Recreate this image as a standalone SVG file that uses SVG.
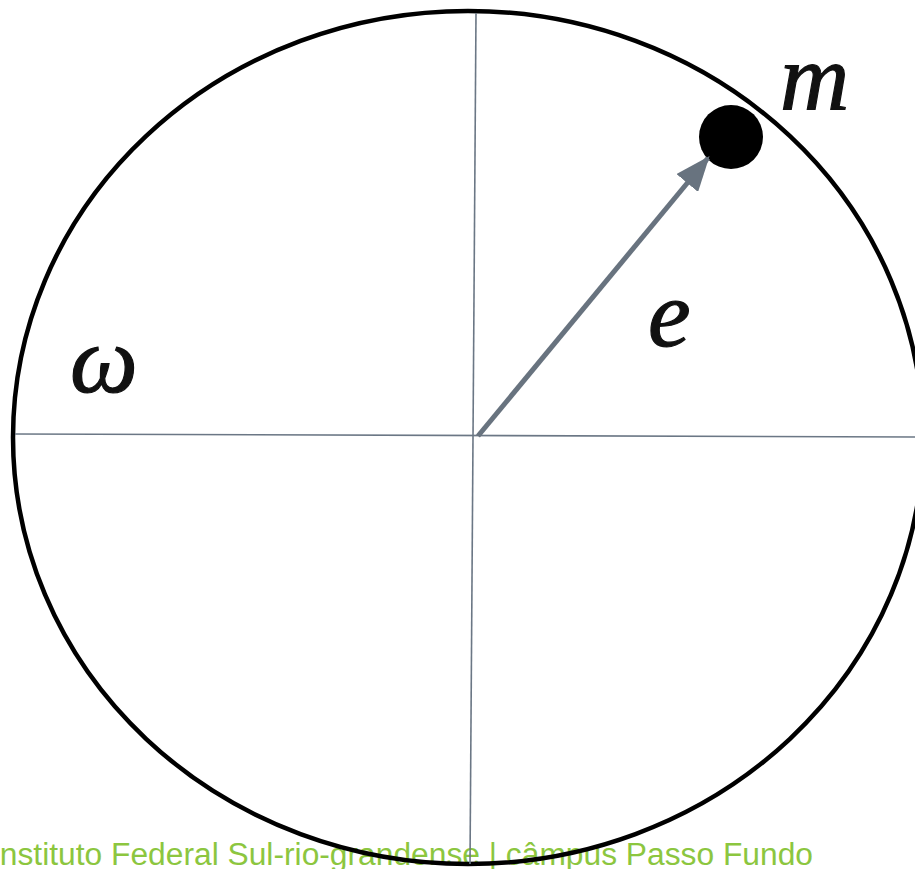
<svg xmlns="http://www.w3.org/2000/svg" width="915" height="869" viewBox="0 0 915 869">
  <style>
    .axis { stroke: #6b7785; stroke-width: 1.6; fill: none; }
    .vec { stroke: #68737f; stroke-width: 5; fill: none; }
    .sym { font-family: "Liberation Serif", "DejaVu Serif", serif; font-style: italic; font-size: 96px; fill: #111111; stroke: #111111; stroke-width: 1.2; }
    .footer { font-family: "Liberation Sans", "DejaVu Sans", sans-serif; font-size: 31px; fill: #8cc63f; }
  </style>
  <defs>
    <marker id="head" markerWidth="7" markerHeight="5.6" refX="6.5" refY="2.8" orient="auto" markerUnits="strokeWidth">
      <path d="M0,0 L7,2.8 L0,5.6 Z" fill="#68737f"/>
    </marker>
  </defs>
  <rect width="915" height="869" fill="#ffffff"/>
  <text class="footer" x="-9" y="865" textLength="822" lengthAdjust="spacingAndGlyphs">Instituto Federal Sul-rio-grandense | câmpus Passo Fundo</text>
  <g id="circle">
    <ellipse cx="468" cy="437.5" rx="455" ry="426.5" fill="none" stroke="#000000" stroke-width="4.5"/>
  </g>
  <g id="axes">
    <line class="axis" x1="15" y1="434" x2="915" y2="437"/>
    <line class="axis" x1="476" y1="13" x2="470" y2="864"/>
  </g>
  <g id="mass">
    <circle cx="731" cy="137" r="32" fill="#000000"/>
    <text class="sym" x="780" y="110">m</text>
  </g>
  <g id="connectors">
    <line class="vec" x1="478" y1="436" x2="708" y2="158" marker-end="url(#head)"/>
  </g>
  <g id="label-e">
    <text class="sym" x="648" y="346">e</text>
  </g>
  <g id="label-omega">
    <text class="sym" x="70" y="392">ω</text>
  </g>
</svg>
